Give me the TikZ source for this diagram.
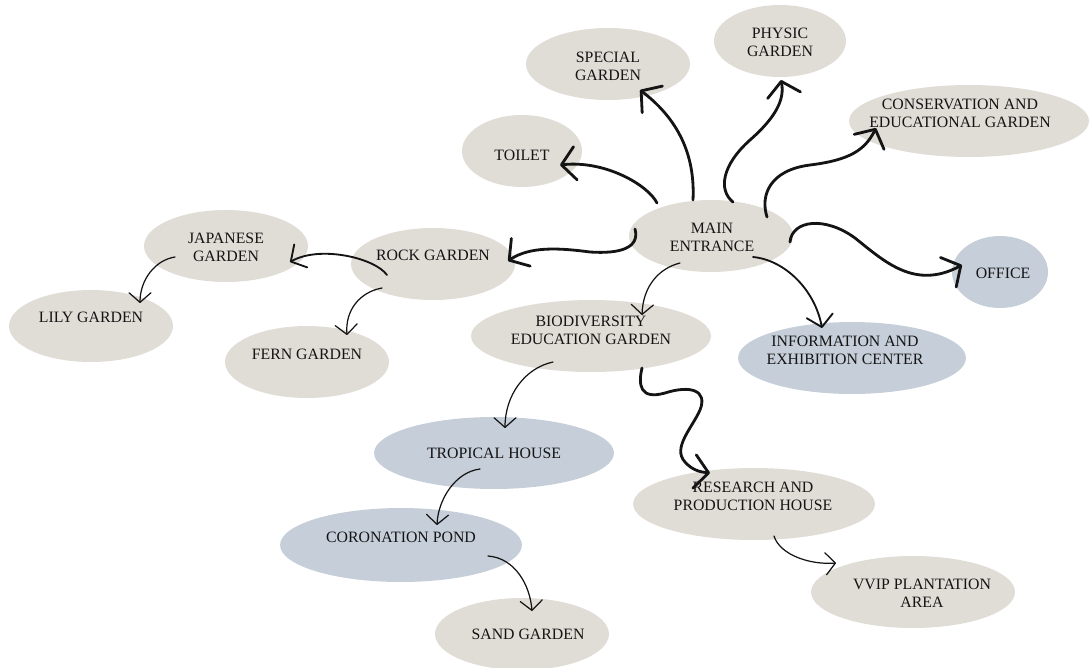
\documentclass[tikz,border=0pt]{standalone}
\usepackage{fontspec}
\setmainfont{Liberation Serif}
\usetikzlibrary{arrows.meta,calc,shapes.geometric}
\definecolor{beige}{RGB}{224,220,214}
\definecolor{slate}{RGB}{198,207,217}
\definecolor{ink}{RGB}{20,20,20}
\begin{document}
\begin{tikzpicture}[x=0.02cm,y=-0.02cm,
  bub/.style n args={2}{ellipse, draw=none, fill=beige, minimum width=#1*0.04cm, minimum height=#2*0.04cm, inner sep=0pt},
  bubb/.style n args={2}{bub={#1}{#2}, fill=slate},
  lbl/.style={align=center, font=\fontsize{9}{10.2}\selectfont, text=ink, inner sep=0pt},
  thk/.style={draw=ink, line width=1.6pt, line cap=round, line join=round, -{Straight Barb[length=8pt,width=19pt,round]}},
  med/.style={draw=ink, line width=1.05pt, line cap=round, line join=round, -{Straight Barb[length=6.5pt,width=15pt,round]}},
  thn/.style={draw=ink, line width=0.7pt, line cap=round, line join=round, -{Straight Barb[length=5.5pt,width=12.5pt,round]}}]
\useasboundingbox (0,0) rectangle (1092,667);
% bubbles
\node[bub={82}{36}] (special) at (608,64) {};
\node[bub={66}{36}] (physic) at (780,41) {};
\node[bub={120}{36}] (cons) at (969,121) {};
\node[bub={60}{36}] (toilet) at (522,151) {};
\node[bub={82}{36}] (main) at (711,236) {};
\node[bub={82}{36}] (jap) at (226,246) {};
\node[bub={82}{36}] (rock) at (433,264) {};
\node[bub={82}{36}] (lily) at (91,326) {};
\node[bub={82}{36}] (fern) at (307,362) {};
\node[bubb={48}{36}] (office) at (1000,272) {};
\node[bub={120}{36}] (bio) at (591,336) {};
\node[bubb={114}{36}] (info) at (852,358) {};
\node[bubb={120}{36}] (trop) at (494,453) {};
\node[bubb={121}{37}] (cor) at (401,545) {};
\node[bub={121}{36}] (res) at (754,504) {};
\node[bub={102}{36}] (vvip) at (913,592) {};
\node[bub={87}{36}] (sand) at (522,634) {};
% labels
\node[lbl] (specialT) at (608,66) {SPECIAL\\GARDEN};
\node[lbl] (physicT) at (780,42) {PHYSIC\\GARDEN};
\node[lbl] (consT) at (960,113) {CONSERVATION AND\\EDUCATIONAL GARDEN};
\node[lbl] (toiletT) at (522,155) {TOILET};
\node[lbl] (mainT) at (712,237) {MAIN\\ENTRANCE};
\node[lbl] (japT) at (226,247) {JAPANESE\\GARDEN};
\node[lbl] (rockT) at (433,255) {ROCK GARDEN};
\node[lbl] (lilyT) at (91,317) {LILY GARDEN};
\node[lbl] (fernT) at (307,354) {FERN GARDEN};
\node[lbl] (officeT) at (1003,273) {OFFICE};
\node[lbl] (bioT) at (591,330) {BIODIVERSITY\\EDUCATION GARDEN};
\node[lbl] (infoT) at (845,350) {INFORMATION AND\\EXHIBITION CENTER};
\node[lbl] (tropT) at (494,453) {TROPICAL HOUSE};
\node[lbl] (corT) at (401,537) {CORONATION POND};
\node[lbl] (resT) at (753,496) {RESEARCH AND\\PRODUCTION HOUSE};
\node[lbl] (vvipT) at (922,593) {VVIP PLANTATION\\AREA};
\node[lbl] (sandT) at (528,634) {SAND GARDEN};
% connectors
\draw[thk] ($(main)+(-54,-33)$) .. controls (648,185) and (605,160) .. ($(toilet)+(38,14)$);
\draw[thk] ($(main)+(-18,-36)$) .. controls (695,160) and (682,122) .. ($(special)+(32,26)$);
\draw[thk] ($(main)+(22,-34)$) .. controls (718,190) and (722,165) .. (750,140) .. controls (775,118) and (785,100) .. ($(physic)+(1,39)$);
\draw[thk] ($(main)+(56,-19)$) .. controls (760,195) and (770,170) .. (810,165) .. controls (850,160) and (865,150) .. ($(cons)+(-93,7)$);
\draw[thk] ($(main)+(79,6)$) .. controls (792,220) and (825,216) .. (855,238) .. controls (885,262) and (915,290) .. ($(office)+(-38,-7)$);
\draw[thk] ($(main)+(-76,-7)$) .. controls (640,248) and (620,254) .. (590,252) .. controls (560,248) and (530,246) .. ($(rock)+(75,-3)$);
\draw[thn] ($(main)+(-31,27)$) .. controls (660,268) and (643,285) .. ($(bio)+(51,-21)$);
\draw[med] ($(main)+(42,21)$) .. controls (785,260) and (815,290) .. ($(info)+(-30,-30)$);
\draw[med] ($(rock)+(-46,11)$) .. controls (375,258) and (320,245) .. ($(jap)+(64,16)$);
\draw[thn] ($(rock)+(-51,24)$) .. controls (360,292) and (345,310) .. ($(fern)+(40,-27)$);
\draw[thn] ($(jap)+(-51,11)$) .. controls (155,260) and (140,280) .. ($(lily)+(49,-23)$);
\draw[thn] ($(bio)+(-38,26)$) .. controls (525,368) and (505,395) .. ($(trop)+(11,-25)$);
\draw[thk] ($(bio)+(51,32)$) .. controls (638,385) and (640,400) .. (665,393) .. controls (690,385) and (708,390) .. (700,410) .. controls (692,428) and (672,448) .. (685,462) .. controls (692,470) and (700,472) .. ($(res)+(-44,-31)$);
\draw[thn] ($(trop)+(-14,16)$) .. controls (455,472) and (438,500) .. ($(cor)+(36,-20)$);
\draw[thn] ($(cor)+(87,11)$) .. controls (515,558) and (530,585) .. ($(sand)+(10,-23)$);
\draw[thn] ($(res)+(20,32)$) .. controls (780,555) and (810,565) .. ($(vvip)+(-77,-29)$);
\end{tikzpicture}
\end{document}
